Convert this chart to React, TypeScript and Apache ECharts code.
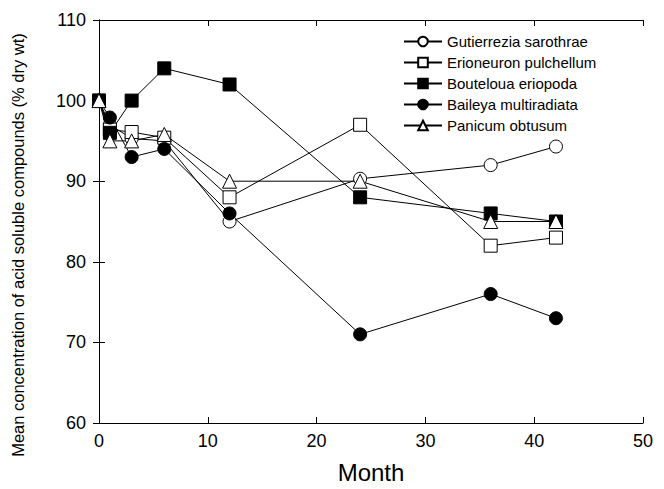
import React, { useEffect, useRef } from "react";
import * as echarts from "echarts";

const months = [0, 1, 3, 6, 12, 24, 36, 42];
const gutierrezia = [100, 97, 95.3, 95.0, 85, 90.3, 92, 94.3];
const erioneuron = [100, 96.4, 96.1, 95.4, 88, 97, 82, 83];
const bouteloua = [100, 96, 100, 104, 102, 88, 86, 85];
const baileya = [100, 97.9, 93, 94, 86, 71, 76, 73];
const panicum = [100, 95, 95, 95.8, 90, 90, 85, 85];

const xTicks = [0, 10, 20, 30, 40, 50];
const yTicks = [60, 70, 80, 90, 100, 110];

const seriesDefs = [
  { name: "Gutierrezia sarothrae", data: gutierrezia, symbol: "circle", filled: false },
  { name: "Erioneuron pulchellum", data: erioneuron, symbol: "rect", filled: false },
  { name: "Bouteloua eriopoda", data: bouteloua, symbol: "rect", filled: true },
  { name: "Baileya multiradiata", data: baileya, symbol: "circle", filled: true },
  { name: "Panicum obtusum", data: panicum, symbol: "triangle", filled: false },
];

export default function App() {
  const ref = useRef<HTMLDivElement>(null);
  useEffect(() => {
    const chart = echarts.init(ref.current!, null, { renderer: "svg" });
    const font = "Liberation Sans, Arial, sans-serif";
    const axisCommon = {
      axisLine: { show: true, lineStyle: { color: "#000", width: 1 } },
      axisTick: { show: true, inside: true, length: 6, lineStyle: { color: "#000" } },
      splitLine: { show: false },
    };
    chart.setOption({
      animation: false,
      backgroundColor: "#fff",
      grid: { left: 99, right: 21, top: 20, bottom: 65, containLabel: false },
      legend: {
        orient: "vertical",
        left: 398,
        top: 29,
        itemWidth: 38,
        itemHeight: 12,
        itemGap: 6,
        textStyle: { fontFamily: font, fontSize: 15, lineHeight: 15, color: "#000" },
        data: seriesDefs.map((s) => s.name),
      },
      xAxis: [
        {
          type: "value",
          min: xTicks[0],
          max: xTicks[xTicks.length - 1],
          interval: 10,
          ...axisCommon,
          axisLabel: { fontFamily: font, fontSize: 18, color: "#000", margin: 9 },
          name: "Month",
          nameLocation: "middle",
          nameGap: 37,
          nameTextStyle: { fontFamily: font, fontSize: 24, color: "#000" },
        },
        {
          type: "value",
          position: "top",
          min: xTicks[0],
          max: xTicks[xTicks.length - 1],
          interval: 10,
          ...axisCommon,
          axisLabel: { show: false },
        },
      ],
      yAxis: [
        {
          type: "value",
          min: yTicks[0],
          max: yTicks[yTicks.length - 1],
          interval: 10,
          ...axisCommon,
          axisLabel: { fontFamily: font, fontSize: 18, color: "#000", margin: 13 },
        },
        {
          type: "value",
          position: "right",
          min: yTicks[0],
          max: yTicks[yTicks.length - 1],
          interval: 10,
          ...axisCommon,
          axisLabel: { show: false },
        },
      ],
      graphic: [
        {
          type: "text",
          x: 18,
          y: 245,
          rotation: Math.PI / 2,
          style: {
            text: "Mean concentration of acid soluble compounds (% dry wt)",
            font: "16.5px Liberation Sans, Arial, sans-serif",
            fill: "#000",
            textAlign: "center",
            textVerticalAlign: "middle",
          },
        },
      ],
      series: seriesDefs.map((s) => ({
        name: s.name,
        type: "line",
        xAxisIndex: 0,
        yAxisIndex: 0,
        data: months.map((m, i) => [m, s.data[i]]),
        symbol: s.symbol,
        symbolSize: s.symbol === "triangle" ? 14 : 13,
        showAllSymbol: true,
        lineStyle: { color: "#000", width: 1 },
        itemStyle: s.filled
          ? { color: "#000", borderColor: "#000", borderWidth: 1 }
          : { color: "#fff", borderColor: "#000", borderWidth: 1 },
        emphasis: { disabled: true },
      })),
    });
    return () => chart.dispose();
  }, []);
  return <div ref={ref} style={{ width: 664, height: 489, position: "absolute", left: 0, top: 0 }} />;
}
